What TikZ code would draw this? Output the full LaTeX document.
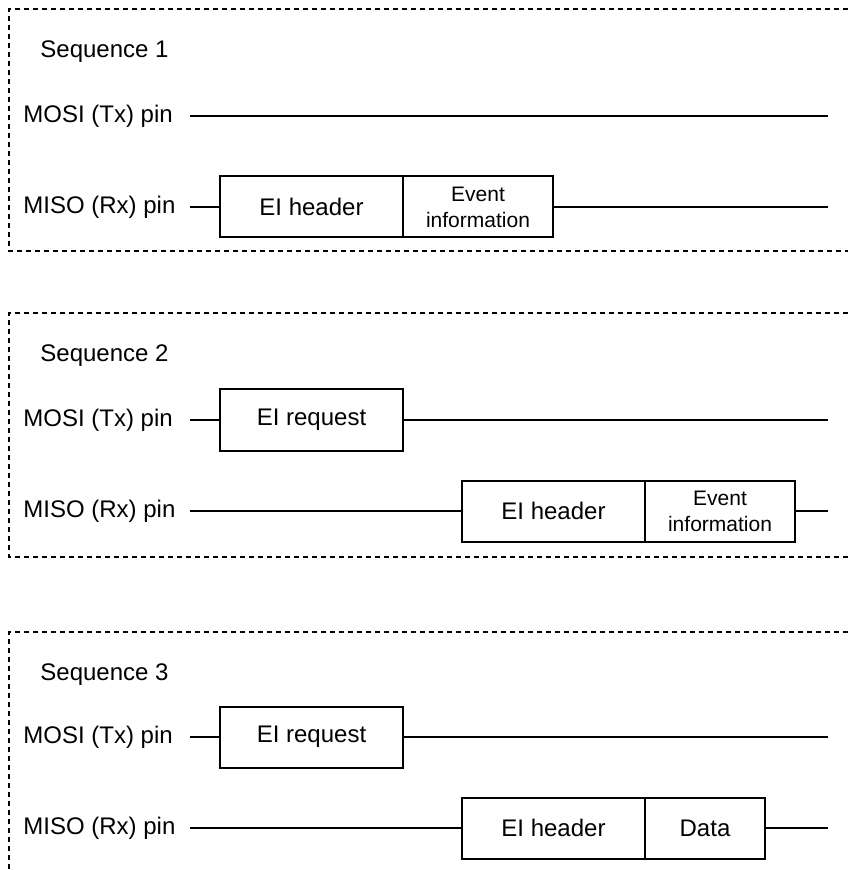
\documentclass[tikz,border=0pt]{standalone}
\usepackage{fontspec}
\setmainfont{Liberation Sans}
\usetikzlibrary{positioning}

\begin{document}
\begin{tikzpicture}[
    x=0.5pt, y=-0.5pt,
    font=\fontsize{12}{14}\selectfont,
    pinlabel/.style={anchor=west, inner sep=0pt},
    frame/.style={rectangle, draw=black, line width=1pt, outer sep=0pt,
      minimum height=30.5pt, inner sep=2pt, align=center},
    hdrbox/.style={frame, minimum width=91.5pt},
    infobox/.style={frame, minimum width=75pt, font=\fontsize{10.5}{13}\selectfont},
    databox/.style={frame, minimum width=60pt},
    signal/.style={line width=1pt},
    border/.style={line width=0.8pt, dash pattern=on 2.5pt off 2pt},
  ]
  \useasboundingbox (0,0) rectangle (848,870);

  % Sequence 1
  \draw[border] (848,9) -| (9,251) -- (848,251);
  \node[pinlabel] (seq1)  at (40,52)  {Sequence 1};
  \node[pinlabel] (mosi1) at (23,116) {MOSI (Tx) pin};
  \node[pinlabel] (miso1) at (23,207) {MISO (Rx) pin};
  \coordinate (tx1s) at (190,116);
  \coordinate (tx1e) at (828,116);
  \coordinate (rx1s) at (190,207);
  \coordinate (rx1e) at (828,207);
  \node[hdrbox, anchor=west] (hdr1) at (220,207) {EI header};
  \node[infobox, right=0pt of hdr1] (info1) {Event\\information};
  \draw[signal] (tx1s) -- (tx1e);
  \draw[signal] (rx1s) -- (hdr1.west);
  \draw[signal] (info1.east) -- (rx1e);

  % Sequence 2
  \draw[border] (848,313) -| (9,557) -- (848,557);
  \node[pinlabel] (seq2)  at (40,356) {Sequence 2};
  \node[pinlabel] (mosi2) at (23,420) {MOSI (Tx) pin};
  \node[pinlabel] (miso2) at (23,511) {MISO (Rx) pin};
  \coordinate (tx2s) at (190,420);
  \coordinate (tx2e) at (828,420);
  \coordinate (rx2s) at (190,511);
  \coordinate (rx2e) at (828,511);
  \node[hdrbox, anchor=west] (req2) at (220,420) {EI request};
  \node[hdrbox, anchor=west] (hdr2) at (462,511) {EI header};
  \node[infobox, right=0pt of hdr2] (info2) {Event\\information};
  \draw[signal] (tx2s) -- (req2.west);
  \draw[signal] (req2.east) -- (tx2e);
  \draw[signal] (rx2s) -- (hdr2.west);
  \draw[signal] (info2.east) -- (rx2e);

  % Sequence 3
  \draw[border] (848,632) -| (9,870);
  \node[pinlabel] (seq3)  at (40,675) {Sequence 3};
  \node[pinlabel] (mosi3) at (23,737) {MOSI (Tx) pin};
  \node[pinlabel] (miso3) at (23,828) {MISO (Rx) pin};
  \coordinate (tx3s) at (190,737);
  \coordinate (tx3e) at (828,737);
  \coordinate (rx3s) at (190,828);
  \coordinate (rx3e) at (828,828);
  \node[hdrbox, anchor=west] (req3) at (220,737) {EI request};
  \node[hdrbox, anchor=west] (hdr3) at (462,828) {EI header};
  \node[databox, right=0pt of hdr3] (data3) {Data};
  \draw[signal] (tx3s) -- (req3.west);
  \draw[signal] (req3.east) -- (tx3e);
  \draw[signal] (rx3s) -- (hdr3.west);
  \draw[signal] (data3.east) -- (rx3e);
\end{tikzpicture}
\end{document}
